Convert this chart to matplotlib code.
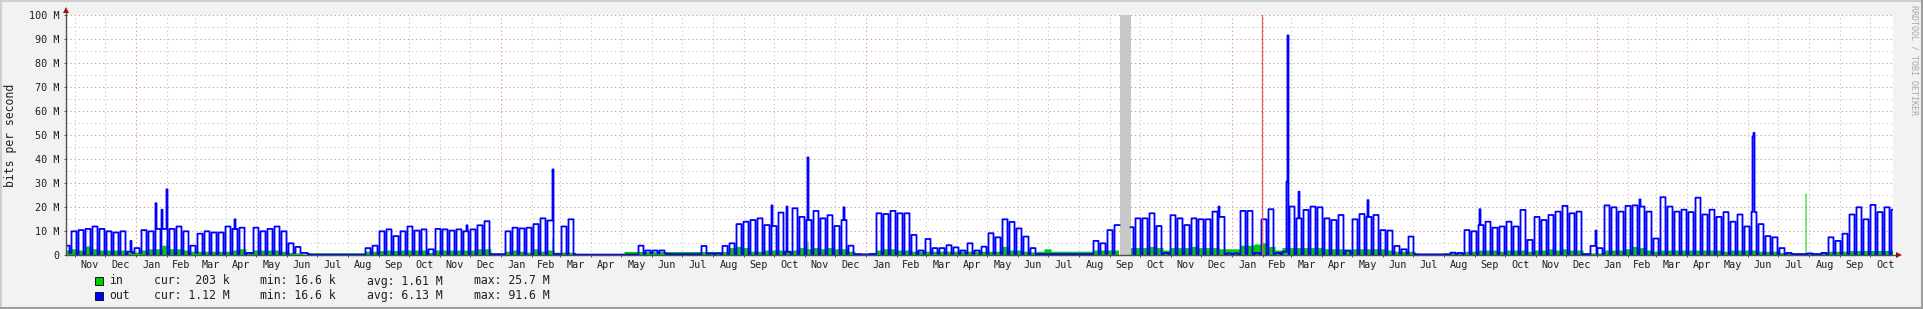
import numpy as np
import pandas as pd
import matplotlib
matplotlib.use('Agg')
import matplotlib.pyplot as plt
from matplotlib.lines import Line2D
from matplotlib.patches import Rectangle
from matplotlib.transforms import blended_transform_factory

# weekly traffic levels in Mbit/s (5 weekdays, then weekend)
out_hi = [
    4, 10, 10.5, 11, 12, 11, 10, 9.5, 10, 1.5,
    3, 10.5, 10, 11, 11, 11, 12, 10, 4, 9,
    10, 9.5, 9.5, 12, 11, 11.5, 1, 11.5, 10, 11,
    12, 10, 5, 3.5, 1, 0.3, 0.3, 0.3, 0.3, 0.3,
    0.3, 0.3, 0.3, 3, 4, 10, 10.8, 8, 10, 12,
    10.3, 10.8, 2.5, 11, 10.8, 10.3, 10.8, 10, 10.8, 12.5,
    14.2, 0.5, 0.5, 10, 11.5, 11.2, 11.5, 13, 15.4, 14.5,
    0.5, 12, 15, 0.3, 0.3, 0.3, 0.3, 0.3, 0.3, 0.3,
    0.3, 0.3, 4, 2, 2, 2, 0.5, 0.5, 0.5, 0.5,
    0.5, 3.9, 0.8, 0.8, 3.9, 5, 13, 14, 14.7, 15.4,
    12.6, 12.2, 17.8, 1.5, 19.6, 16, 14.7, 18.5, 15.4, 16.7,
    12.2, 14.7, 4, 0.5, 0.4, 0.5, 17.5, 17.2, 18.5, 17.5,
    17.5, 8.5, 2, 6.8, 3, 3, 4.2, 3.3, 2, 5,
    2, 3.6, 9.2, 7.5, 15, 13.9, 11.2, 7.8, 3, 0.5,
    0.5, 0.5, 0.5, 0.5, 0.5, 0.5, 0.5, 6, 5, 10.5,
    12.6, 0, 11.7, 15.4, 15.4, 17.5, 12.2, 1, 16.7, 15.4,
    12.6, 15.4, 15, 15, 18.2, 16, 0.8, 0.8, 18.5, 18.5,
    1, 15, 19.2, 1, 1.5, 20.3, 15.4, 18.9, 20.3, 20,
    15.4, 14.7, 16.8, 2, 15, 17.2, 16, 16.8, 10.5, 10.3,
    3.9, 2.5, 7.8, 0.4, 0.4, 0.4, 0.4, 0.4, 1.1, 1,
    10.5, 10, 12.6, 14, 11.5, 12, 14, 12, 18.9, 6.4,
    16, 14.7, 16.8, 18.2, 20.6, 17.5, 18.2, 0.5, 3.9, 3,
    20.8, 20, 18.2, 20.6, 20.8, 20.3, 18.2, 7, 24.2, 20.3,
    18.2, 19, 18, 24, 17, 19, 16, 18, 14, 17,
    12, 18, 13, 8, 7.5, 3, 1, 0.5, 0.5, 0.8,
    0.5, 1, 7.5, 6, 9, 17, 20, 15, 21, 18,
    20, 19,
]
out_lo = [
    1, 0.5, 0.5, 0.5, 0.5, 0.5, 0.5, 0.5, 0.5, 1,
    1, 0.5, 0.5, 0.5, 0.5, 0.5, 0.5, 0.5, 1, 0.5,
    0.5, 0.5, 0.5, 0.5, 0.5, 0.5, 0.8, 0.5, 0.5, 0.5,
    0.5, 0.5, 1, 1, 0.5, 0.3, 0.3, 0.3, 0.3, 0.3,
    0.3, 0.3, 0.3, 0.5, 0.5, 0.5, 0.5, 0.5, 0.5, 0.5,
    0.5, 0.5, 0.5, 0.5, 0.5, 0.5, 0.5, 0.5, 0.5, 0.5,
    0.5, 0.5, 0.5, 0.5, 0.5, 0.5, 0.5, 0.5, 0.5, 0.5,
    0.5, 0.5, 0.5, 0.3, 0.3, 0.3, 0.3, 0.3, 0.3, 0.3,
    0.3, 0.3, 0.5, 0.8, 0.8, 0.8, 0.4, 0.4, 0.4, 0.4,
    0.4, 0.6, 0.5, 0.5, 0.6, 0.5, 0.5, 0.5, 0.5, 0.5,
    0.5, 0.5, 0.5, 0.5, 0.5, 0.5, 0.5, 0.5, 0.5, 0.5,
    0.5, 0.5, 0.5, 0.4, 0.4, 0.4, 0.5, 0.5, 0.5, 0.5,
    0.5, 0.5, 0.6, 0.6, 0.6, 0.6, 0.6, 0.6, 0.6, 0.6,
    0.6, 0.6, 0.6, 0.6, 0.5, 0.5, 0.5, 0.5, 0.5, 0.5,
    0.5, 0.5, 0.5, 0.5, 0.5, 0.5, 0.5, 0.6, 0.6, 0.6,
    0.6, 0, 0.5, 0.5, 0.5, 0.5, 0.5, 0.5, 0.5, 0.5,
    0.5, 0.5, 0.5, 0.5, 0.5, 0.5, 0.5, 0.5, 0.5, 0.5,
    0.5, 0.5, 0.5, 0.5, 0.5, 0.5, 0.5, 0.5, 0.5, 0.5,
    0.5, 0.5, 0.5, 0.5, 0.5, 0.5, 0.5, 0.5, 0.5, 0.5,
    0.6, 0.6, 0.6, 0.4, 0.4, 0.4, 0.4, 0.4, 0.5, 0.5,
    0.5, 0.5, 0.5, 0.5, 0.5, 0.5, 0.5, 0.5, 0.5, 0.5,
    0.5, 0.5, 0.5, 0.5, 0.5, 0.5, 0.5, 0.5, 0.5, 0.5,
    0.5, 0.5, 0.5, 0.5, 0.5, 0.5, 0.5, 0.5, 0.5, 0.5,
    0.5, 0.5, 0.5, 0.5, 0.5, 0.5, 0.5, 0.5, 0.5, 0.5,
    0.5, 0.5, 0.5, 0.5, 0.5, 0.5, 0.5, 0.4, 0.4, 0.5,
    0.4, 0.5, 0.6, 0.6, 0.6, 0.5, 0.5, 0.5, 0.5, 0.5,
    0.5, 0.5,
]
in_wk = [
    2, 2.5, 2, 3.5, 2.5, 2, 2, 2, 2, 1,
    1.2, 2, 2.5, 2.5, 4, 2.5, 2.5, 2, 1.5, 1.5,
    1.5, 1.5, 1.5, 1.5, 2, 2.5, 0.8, 2, 2, 2,
    2, 1.5, 1, 0.8, 0.3, 0.8, 0.8, 0.8, 0.8, 0.8,
    0.8, 0.8, 0.8, 1.5, 1.5, 1.8, 2, 1.8, 2, 2,
    2, 2, 1, 2, 2, 2, 2, 2, 2, 2.5,
    2.5, 0.5, 0.5, 1.5, 2, 1.5, 1.1, 2.5, 1.5, 2,
    1.1, 1.1, 1.1, 0.4, 0.4, 0.4, 0.4, 0.4, 0.4, 0.4,
    1.4, 1.4, 1.4, 1.4, 1.4, 1.4, 1.4, 1.4, 1.4, 1.4,
    1.4, 1.4, 1.4, 1.4, 1.4, 3, 3.5, 3, 1.5, 1.5,
    2, 2, 2, 1.5, 2, 3, 2.5, 3, 2.5, 3,
    2.5, 2.5, 1.5, 0.5, 0.5, 1, 2, 2.5, 2.5, 2,
    2, 1.5, 1.5, 1.5, 1.5, 1.5, 1.5, 1.5, 1.5, 1.5,
    1.5, 1.5, 1.5, 1.5, 3.5, 2, 2, 1.5, 1.2, 1.5,
    2.5, 1.5, 1.5, 1.5, 1.5, 1.5, 1.5, 2, 2, 2,
    2, 0, 3, 3, 3, 3.5, 3, 2, 3, 3,
    3, 3.5, 3, 3, 3, 2.5, 2.5, 2.5, 4, 4,
    4.5, 5, 3.5, 2, 3, 3, 3, 3, 3, 3,
    2.5, 2.5, 2.5, 2, 2.5, 2.5, 2.5, 2.5, 2.5, 2,
    1.5, 1.5, 1.5, 0.4, 0.4, 0.4, 0.4, 0.8, 0.8, 0.8,
    1.5, 1.5, 2, 2, 2, 1.5, 2, 2, 2, 1.5,
    2, 2, 2.5, 2, 2.5, 2, 2, 0.8, 0.8, 0.8,
    2, 2, 2, 2.5, 3.5, 3, 2, 1.5, 2, 2,
    2, 2, 2, 2, 2, 2, 2, 1.5, 2, 2,
    2, 2, 1.5, 1.5, 1.5, 1, 0.8, 0.8, 0.8, 0.8,
    0.8, 0.8, 1.5, 1.5, 1.5, 1.8, 1.8, 1.8, 1.8, 1.8,
    1.8, 1.8,
]
# single-day peaks (day offset from start, Mbit/s)
out_spike_day = [65, 90, 96, 101, 169, 401, 487, 706, 721, 742, 778, 1153,
                 1221, 1222, 1233, 1302, 1414, 1530, 1574, 1687, 1688]
out_spike_val = [6, 21.7, 19, 27.5, 15, 12.5, 35.8, 20.8, 20.3, 40.8, 20, 20.3,
                 30.7, 91.6, 26.5, 23, 19.2, 10.3, 23.3, 49.5, 51]
in_spike_day = [22, 101, 487, 742, 1201, 1740]
in_spike_val = [4, 6.4, 7, 5.7, 7.8, 25.7]

unknown_range = (1054, 1065)
vrule_day = 1196
start_date = pd.Timestamp('2009-10-23')
n_days = 1827

legend_rows = [
    ('in', '#00cc00', 'cur:  203 k', 'min: 16.6 k', 'avg: 1.61 M', 'max: 25.7 M'),
    ('out', '#0000ff', 'cur: 1.12 M', 'min: 16.6 k', 'avg: 6.13 M', 'max: 91.6 M'),
]

# daily series: 5 weekday values then 2 weekend values per week
out_d = np.column_stack([out_hi] * 5 + [out_lo] * 2).ravel().astype(float)
in_d = np.repeat(np.array(in_wk, dtype=float), 7)
days = np.arange(len(out_d)) - 1
for d, v in zip(out_spike_day, out_spike_val):
    out_d[days == d] = v
for d, v in zip(in_spike_day, in_spike_val):
    in_d[days == d] = v
gap = (days >= unknown_range[0]) & (days < unknown_range[1])
out_d[gap] = np.nan
in_d[gap] = np.nan

W, H = 1923, 309
fig = plt.figure(figsize=(W / 100, H / 100), dpi=100, facecolor='#f2f2f2')
L, R, T, B = 66, 1893, 15.3, 255.3
ax = fig.add_axes([L / W, 1 - B / H, (R - L) / W, (B - T) / H])
ax.set_facecolor('white')
ax.set_xlim(0, n_days)
ax.set_ylim(0, 100)
for s in ax.spines.values():
    s.set_visible(False)

mono = 'DejaVu Sans Mono'

# grid
for v in range(5, 101, 5):
    if v % 10 == 0:
        ax.axhline(v, color='#dc9c9c', lw=0.75, ls=(0, (1.3, 2.6)), zorder=1)
    else:
        ax.axhline(v, color='#cccccc', lw=0.75, ls=(0, (1.3, 2.6)), zorder=1)

months = pd.date_range('2009-10-01', '2014-12-01', freq='MS')
moff = np.array((months - start_date).days)
for m, off in zip(months, moff):
    if 0 < off < n_days:
        c = '#dc9c9c' if m.month == 1 else '#cccccc'
        ax.axvline(off, color=c, lw=0.75, ls=(0, (1.3, 2.6)), zorder=1)

trans = blended_transform_factory(ax.transData, ax.transAxes)
for i in range(len(months) - 1):
    mid = (moff[i] + moff[i + 1]) / 2
    if 0 <= mid <= n_days:
        ax.text(mid, -(265 - B) / (B - T), months[i].strftime('%b'), transform=trans,
                ha='center', va='center', fontsize=7.3, family=mono, color='#202020')

# data
ax.axvspan(unknown_range[0], unknown_range[1], color='#c8c8c8', lw=0, zorder=2)
ax.fill_between(days, in_d, step='mid', color='#00cc00', lw=0, zorder=3)
ax.plot(days, out_d, drawstyle='steps-mid', color='#0000ff', lw=1.3, zorder=4)
ax.axvline(vrule_day, color='#f05a5a', lw=0.9, zorder=5)

# ticks
ax.set_yticks(range(0, 101, 10))
ax.set_yticklabels(['0'] + [f'{v} M' for v in range(10, 101, 10)], family=mono)
ax.set_xticks([o for o in moff if 0 < o < n_days])
ax.set_xticklabels([])
ax.tick_params(axis='y', length=1.5, width=0.7, color='#505050', pad=3,
               labelsize=7.3, labelcolor='#202020')
ax.tick_params(axis='x', length=1.5, width=0.7, color='#505050')

# axis lines with arrows
ax_col = '#505050'
fig.add_artist(Line2D([L / W, L / W], [1 - B / H, 1 - 11 / H], color=ax_col, lw=1.0))
fig.add_artist(Line2D([L / W, 1897 / W], [1 - B / H, 1 - B / H], color=ax_col, lw=1.0))
fig.add_artist(Line2D([L / W], [1 - 9.5 / H], marker='^', ms=4.5, color='#a01010', mew=0))
fig.add_artist(Line2D([1898.5 / W], [1 - B / H], marker='>', ms=4.5, color='#a01010', mew=0))

# labels
fig.text(11 / W, 1 - 135 / H, 'bits per second', rotation=90, ha='center', va='center',
         fontsize=8.3, family=mono, color='#202020')
fig.text(1914 / W, 1 - 60 / H, 'RRDTOOL / TOBI OETIKER', rotation=270, ha='center',
         va='center', fontsize=6, family=mono, color='#a8a8a8')

# legend
for row, (name, col, cur, mn, av, mx) in enumerate(legend_rows):
    y = 281 + row * 14.5
    fig.patches.append(Rectangle((95 / W, 1 - (y + 4) / H), 8 / W, 8 / H, facecolor=col,
                                 edgecolor='black', lw=0.6, transform=fig.transFigure))
    for x, s in [(109, name), (154, cur), (260, mn), (367, av), (474, mx)]:
        fig.text(x / W, 1 - y / H, s, ha='left', va='center', fontsize=8.3, family=mono,
                 color='#202020')

# frame
fig.add_artist(Line2D([0, 1], [1 - 1 / H, 1 - 1 / H], color='#cfcfcf', lw=1.5))
fig.add_artist(Line2D([1 / W, 1 / W], [0, 1], color='#cfcfcf', lw=1.5))
fig.add_artist(Line2D([0, 1], [1.5 / H, 1.5 / H], color='#9e9e9e', lw=2.2))
fig.add_artist(Line2D([1 - 1.5 / W, 1 - 1.5 / W], [0, 1], color='#9e9e9e', lw=2.2))

fig.savefig('out.png', dpi=100, facecolor=fig.get_facecolor())
